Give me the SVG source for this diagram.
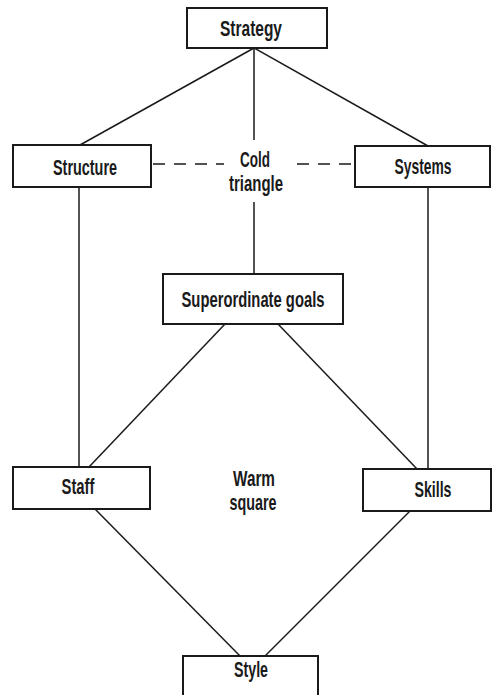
<svg xmlns="http://www.w3.org/2000/svg" width="493" height="695" viewBox="0 0 493 695">
  <style>
    .box { fill: #ffffff; stroke: #1a1a1a; stroke-width: 2; }
    .link { stroke: #1a1a1a; stroke-width: 1.5; fill: none; }
    .dash { stroke: #1a1a1a; stroke-width: 1.6; stroke-dasharray: 12 9; fill: none; }
    text { font-family: "Liberation Sans Narrow", "Liberation Sans", Arial, sans-serif; font-size: 22px; font-weight: bold; fill: #1a1a1a; text-anchor: middle; }
  </style>
  <rect width="493" height="695" fill="#ffffff"/>

  <!-- connectors -->
  <g id="connectors">
    <line class="link" x1="254" y1="48" x2="80" y2="145"/>
    <line class="link" x1="254" y1="48" x2="428" y2="146"/>
    <line class="link" x1="254" y1="48" x2="254" y2="140"/>
    <line class="link" x1="254" y1="202" x2="254" y2="274"/>
    <line class="dash" x1="153" y1="164" x2="224" y2="164"/>
    <line class="dash" x1="297" y1="164" x2="353" y2="164"/>
    <line class="link" x1="79" y1="187" x2="79" y2="467"/>
    <line class="link" x1="428" y1="187" x2="428" y2="469"/>
    <line class="link" x1="225" y1="324" x2="89" y2="467"/>
    <line class="link" x1="278" y1="324" x2="417" y2="469"/>
    <line class="link" x1="95" y1="509" x2="240" y2="656"/>
    <line class="link" x1="410" y1="511" x2="265" y2="656"/>
  </g>

  <g id="strategy">
    <rect class="box" x="187" y="8" width="140" height="40"/>
    <text x="251" y="36" textLength="62" lengthAdjust="spacingAndGlyphs">Strategy</text>
  </g>
  <g id="structure">
    <rect class="box" x="13" y="145" width="138" height="42"/>
    <text x="85" y="175" textLength="64" lengthAdjust="spacingAndGlyphs">Structure</text>
  </g>
  <g id="systems">
    <rect class="box" x="355" y="146" width="135" height="41"/>
    <text x="423" y="174" textLength="57" lengthAdjust="spacingAndGlyphs">Systems</text>
  </g>
  <g id="cold-triangle">
    <text x="255" y="167" textLength="30" lengthAdjust="spacingAndGlyphs">Cold</text>
    <text x="256" y="191" textLength="54" lengthAdjust="spacingAndGlyphs">triangle</text>
  </g>
  <g id="superordinate-goals">
    <rect class="box" x="163" y="274" width="180" height="50"/>
    <text x="253" y="307" textLength="143" lengthAdjust="spacingAndGlyphs">Superordinate goals</text>
  </g>
  <g id="staff">
    <rect class="box" x="13" y="467" width="137" height="42"/>
    <text x="78" y="494" textLength="33" lengthAdjust="spacingAndGlyphs">Staff</text>
  </g>
  <g id="warm-square">
    <text x="254" y="486" textLength="42" lengthAdjust="spacingAndGlyphs">Warm</text>
    <text x="253" y="510" textLength="47" lengthAdjust="spacingAndGlyphs">square</text>
  </g>
  <g id="skills">
    <rect class="box" x="363" y="469" width="128" height="42"/>
    <text x="433" y="497" textLength="37" lengthAdjust="spacingAndGlyphs">Skills</text>
  </g>
  <g id="style">
    <rect class="box" x="183" y="656" width="135" height="46"/>
    <text x="251" y="677" textLength="34" lengthAdjust="spacingAndGlyphs">Style</text>
  </g>
</svg>
